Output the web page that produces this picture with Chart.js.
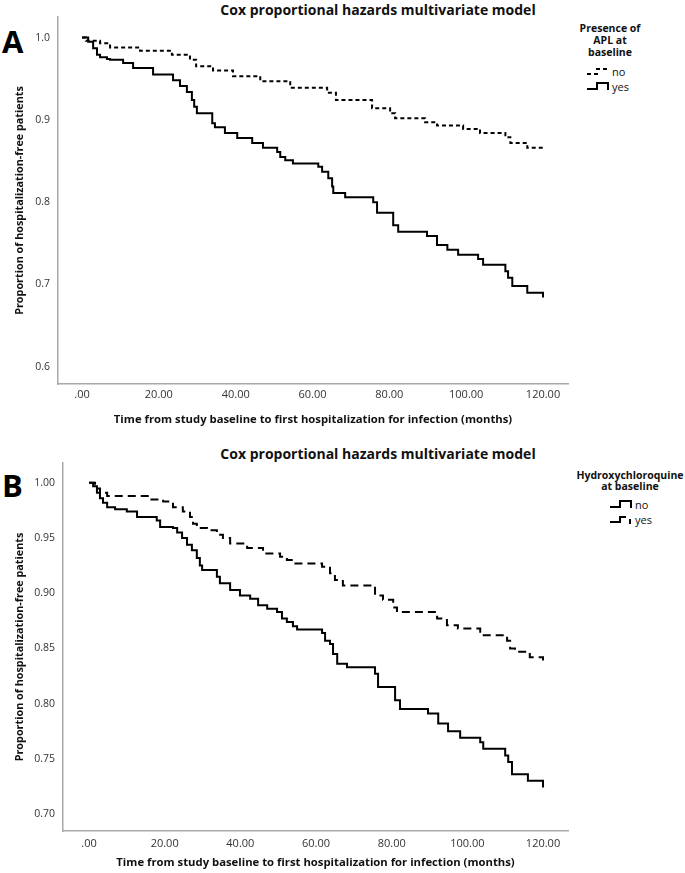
<!DOCTYPE html>
<html>
<head>
<meta charset="utf-8">
<script src="https://cdn.jsdelivr.net/npm/chart.js@4"></script>
<style>
  body { margin: 0; background: #fff; width: 685px; height: 873px; position: relative; overflow: hidden; font-family: "Open Sans", sans-serif; color: #111; }
  canvas { position: absolute; left: 0; }
  .letter { position: absolute; left: 2px; font-weight: bold; font-size: 31px; line-height: 1; color: #000; }
  .title { position: absolute; transform: translate(-50%, -50%); font-weight: bold; font-size: 14px; white-space: nowrap; }
  .ltitle { position: absolute; transform: translateX(-50%); font-weight: bold; font-size: 10.5px; text-align: center; white-space: nowrap; }
  .item { position: absolute; font-size: 11px; display: flex; align-items: center; height: 14px; }
  .item svg { margin-right: 2px; }
</style>
</head>
<body>

<div class="letter" style="top:26px">A</div>
<div class="title" style="left:378px; top:9px">Cox proportional hazards multivariate model</div>
<div class="ltitle" style="left:610px; top:22px; line-height:12px">Presence of<br>APL at<br>baseline</div>
<div class="item" style="left:587px; top:64px">
  <svg width="23" height="10"><path d="M0,8 H10 V3 H23" fill="none" stroke="#000" stroke-width="2" stroke-dasharray="4,3"/></svg>no</div>
<div class="item" style="left:587px; top:79px">
  <svg width="23" height="10"><path d="M0,8 H10 V2 H21 V9" fill="none" stroke="#000" stroke-width="2"/></svg>yes</div>
<canvas id="chartA" width="685" height="430" style="top:0"></canvas>

<div class="letter" style="top:470px">B</div>
<div class="title" style="left:378px; top:453px">Cox proportional hazards multivariate model</div>
<div class="ltitle" style="left:630px; top:470px; line-height:11px">Hydroxychloroquine<br>at baseline</div>
<div class="item" style="left:610px; top:497px">
  <svg width="23" height="10"><path d="M0,8 H10 V2 H21 V9" fill="none" stroke="#000" stroke-width="2"/></svg>no</div>
<div class="item" style="left:610px; top:512px">
  <svg width="23" height="10"><path d="M0,8 H10 V3 H16 M20,5 V10" fill="none" stroke="#000" stroke-width="2"/></svg>yes</div>
<canvas id="chartB" width="685" height="443" style="top:430px"></canvas>

<script>
// axis ticks
const xTicks = [0, 20, 40, 60, 80, 100, 120];
const xTickLabels = ['.00', '20.00', '40.00', '60.00', '80.00', '100.00', '120.00'];
const yTicksA = [0.6, 0.7, 0.8, 0.9, 1.0];
const yTickLabelsA = ['0.6', '0.7', '0.8', '0.9', '1.0'];
const yTicksB = [0.70, 0.75, 0.80, 0.85, 0.90, 0.95, 1.00];
const yTickLabelsB = ['0.70', '0.75', '0.80', '0.85', '0.90', '0.95', '1.00'];

// Panel A: presence of APL at baseline
const aNoTime = [0, 1.0, 4.7, 7.3, 15.1, 23.4, 28.1, 29.7, 34.1, 39.3, 46.4, 54.2, 63.8, 66.1, 75.5, 80.2, 81.5, 89.3, 92.4, 99.2, 103.6, 110.2, 111.5, 115.9, 120];
const aNoSurv = [1.0, 0.996, 0.993, 0.988, 0.984, 0.979, 0.973, 0.965, 0.960, 0.953, 0.947, 0.939, 0.933, 0.924, 0.914, 0.908, 0.902, 0.897, 0.893, 0.889, 0.884, 0.879, 0.872, 0.866, 0.866];
const aYesTime = [0, 1.6, 2.9, 3.9, 4.7, 6.5, 7.3, 10.7, 13.3, 18.5, 23.7, 25.5, 27.3, 28.6, 29.2, 29.9, 33.9, 34.6, 37.2, 40.4, 44.3, 47.1, 50.8, 51.6, 52.9, 54.9, 61.5, 62.5, 64.1, 65.1, 65.4, 68.5, 75.8, 76.8, 81.0, 82.3, 89.8, 92.4, 95.1, 97.9, 103.1, 104.4, 110.2, 110.9, 112.0, 115.9, 120.0];
const aYesSurv = [1.0, 0.995, 0.987, 0.979, 0.976, 0.974, 0.973, 0.969, 0.963, 0.955, 0.948, 0.941, 0.934, 0.924, 0.916, 0.908, 0.896, 0.891, 0.884, 0.878, 0.872, 0.866, 0.861, 0.855, 0.851, 0.847, 0.843, 0.837, 0.829, 0.819, 0.811, 0.806, 0.800, 0.787, 0.772, 0.764, 0.759, 0.748, 0.742, 0.736, 0.731, 0.724, 0.716, 0.708, 0.698, 0.690, 0.684];

// Panel B: hydroxychloroquine at baseline
const bNoTime = [0, 1.1, 2.1, 2.9, 3.7, 4.8, 6.9, 10.0, 12.7, 17.9, 18.8, 22.2, 23.3, 24.6, 25.9, 27.2, 28.5, 29.3, 29.9, 33.8, 34.6, 37.3, 39.9, 42.6, 44.7, 47.1, 49.7, 51.0, 52.3, 53.9, 55.0, 61.6, 62.4, 63.7, 64.5, 65.6, 68.2, 75.6, 76.4, 80.9, 82.2, 89.6, 92.3, 94.9, 98.1, 103.4, 104.2, 110.0, 110.8, 111.8, 116.0, 120.0];
const bNoSurv = [1.0, 0.997, 0.991, 0.986, 0.982, 0.978, 0.976, 0.974, 0.969, 0.966, 0.960, 0.959, 0.955, 0.950, 0.944, 0.939, 0.932, 0.925, 0.921, 0.915, 0.909, 0.903, 0.898, 0.895, 0.889, 0.886, 0.883, 0.877, 0.874, 0.870, 0.867, 0.864, 0.857, 0.854, 0.845, 0.836, 0.833, 0.827, 0.815, 0.803, 0.795, 0.791, 0.782, 0.775, 0.769, 0.765, 0.759, 0.753, 0.747, 0.736, 0.730, 0.724];
const bYesTime = [0, 1.6, 2.9, 4.8, 16.1, 19.6, 22.2, 24.8, 26.7, 27.5, 28.5, 31.2, 33.8, 35.4, 37.3, 41.8, 46.0, 50.5, 52.3, 53.9, 61.6, 63.7, 65.0, 67.1, 75.6, 77.7, 80.4, 81.4, 92.0, 94.6, 97.5, 103.4, 110.5, 111.3, 112.6, 116.5, 120.0];
const bYesSurv = [1.0, 0.995, 0.991, 0.988, 0.985, 0.983, 0.978, 0.974, 0.969, 0.963, 0.959, 0.957, 0.953, 0.950, 0.945, 0.941, 0.936, 0.933, 0.930, 0.927, 0.924, 0.918, 0.912, 0.907, 0.898, 0.894, 0.887, 0.883, 0.877, 0.871, 0.868, 0.862, 0.857, 0.850, 0.847, 0.842, 0.839];

Chart.defaults.font.family = '"Open Sans", sans-serif';

function toPoints(times, surv) {
    return times.map((t, i) => ({ x: t, y: surv[i] }));
}

function kmLine(times, surv, dash) {
    return {
        data: toPoints(times, surv),
        borderColor: '#000',
        borderWidth: 2,
        borderDash: dash,
        stepped: true,
        pointRadius: 0,
        fill: false
    };
}

// Build one panel
function makeChart(id, datasets, cfg) {
    const ctx = document.getElementById(id).getContext('2d');
    return new Chart(ctx, {
        type: 'line',
        data: { datasets: datasets },
        options: {
            responsive: false,
            animation: false,
            layout: { padding: { top: cfg.padTop, right: 117, left: 0, bottom: 0 } },
            plugins: { legend: { display: false }, tooltip: { enabled: false } },
            scales: {
                x: {
                    type: 'linear',
                    min: cfg.xMin,
                    max: cfg.xMax,
                    afterBuildTicks: s => { s.ticks = xTicks.map(v => ({ value: v })); },
                    afterFit: s => { s.height = cfg.xHeight; },
                    grid: { display: false, drawTicks: false },
                    border: { display: true, color: '#a8a8a8', width: 1.5 },
                    ticks: {
                        padding: cfg.xTickPad,
                        color: '#333',
                        font: { size: 11 },
                        maxRotation: 0,
                        autoSkip: false,
                        callback: (v, i) => xTickLabels[i]
                    },
                    title: {
                        display: true,
                        text: 'Time from study baseline to first hospitalization for infection (months)',
                        color: '#111',
                        font: { size: 11.3, weight: 'bold' },
                        padding: { top: 0, bottom: 3 }
                    }
                },
                y: {
                    type: 'linear',
                    min: cfg.yMin,
                    max: cfg.yMax,
                    afterBuildTicks: s => { s.ticks = cfg.yTicks.map(v => ({ value: v })); },
                    afterFit: s => { s.width = cfg.yWidth; },
                    grid: { display: false, drawTicks: false },
                    border: { display: true, color: '#a8a8a8', width: 1.5 },
                    ticks: {
                        padding: 8,
                        color: '#333',
                        font: { size: 10.5 },
                        autoSkip: false,
                        callback: (v, i) => cfg.yLabels[i]
                    },
                    title: {
                        display: true,
                        text: 'Proportion of hospitalization-free patients',
                        color: '#111',
                        font: { size: 10.8, weight: 'bold' },
                        padding: { top: 13, bottom: 0 }
                    }
                }
            }
        }
    });
}

makeChart('chartA', [
    kmLine(aNoTime, aNoSurv, [4, 3]),
    kmLine(aYesTime, aYesSurv, [])
], {
    padTop: 17, xHeight: 46, yWidth: 58, xTickPad: 4,
    xMin: -6.25, xMax: 126.5,
    yMin: 0.579, yMax: 1.025,
    yTicks: yTicksA, yLabels: yTickLabelsA
});

makeChart('chartB', [
    kmLine(bNoTime, bNoSurv, []),
    kmLine(bYesTime, bYesSurv, [8, 5])
], {
    padTop: 33, xHeight: 42, yWidth: 63, xTickPad: 6,
    xMin: -6.87, xMax: 126.6,
    yMin: 0.6845, yMax: 1.018,
    yTicks: yTicksB, yLabels: yTickLabelsB
});
</script>
</body>
</html>
